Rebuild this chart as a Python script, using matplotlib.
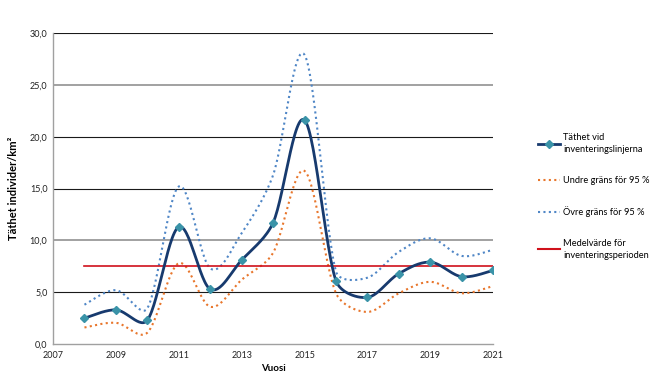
import numpy as np
import matplotlib
matplotlib.use("Agg")
import matplotlib.pyplot as plt
from matplotlib.lines import Line2D

plt.rcParams['font.family'] = ['Lato', 'DejaVu Sans']

years = np.arange(2008, 2022)
tathet = [2.5, 3.3, 2.3, 11.3, 5.3, 8.1, 11.7, 21.6, 6.1, 4.5, 6.8, 7.9, 6.5, 7.1]
undre = [1.6, 2.05, 1.1, 7.8, 3.6, 6.2, 8.8, 16.7, 4.9, 3.1, 4.9, 6.0, 4.9, 5.6]
ovre = [3.8, 5.2, 3.45, 15.2, 7.3, 10.7, 16.3, 27.9, 7.0, 6.4, 8.9, 10.2, 8.5, 9.1]
medel = np.mean(tathet)

yticks = [0, 5, 10, 15, 20, 25, 30]
xticks = [2007, 2009, 2011, 2013, 2015, 2017, 2019, 2021]

# approx pixels per data unit, so the smoothing works in screen space like Excel
SX, SY = 31.4, 10.36


def smooth(x, y, n=30, k=0.35):
    # Catmull-Rom style bezier, control arms clamped to a share of the segment
    p = np.column_stack([np.asarray(x, float) * SX, np.asarray(y, float) * SY])
    p = np.vstack([p[0], p, p[-1]])
    t = np.linspace(0, 1, n)[:, None]
    out = []
    for i in range(1, len(p) - 2):
        p0, p3 = p[i], p[i + 1]
        L = np.hypot(*(p3 - p0))
        a1 = (p3 - p[i - 1]) / 6
        a2 = (p[i + 2] - p0) / 6
        for a in (a1, a2):
            la = np.hypot(*a)
            if la > k * L:
                a *= k * L / la
        c1 = p0 + a1
        c2 = p3 - a2
        b = (1 - t) ** 3 * p0 + 3 * (1 - t) ** 2 * t * c1 + 3 * (1 - t) * t ** 2 * c2 + t ** 3 * p3
        out.append(b)
    out = np.concatenate(out)
    return out[:, 0] / SX, out[:, 1] / SY


navy = '#173a6e'
teal = '#3a93a8'
orange = '#e8762c'
blue = '#4f86c6'
red = '#d0111b'

fig = plt.figure(figsize=(6.71, 3.84), dpi=100)
ax = fig.add_axes([0.079, 0.104, 0.656, 0.81])

for v in yticks[1:]:
    c = '#9a9a9a' if v in (10, 25) else '#1a1a1a'
    lw = 1.3 if v in (10, 25) else 0.8
    ax.axhline(v, color=c, lw=lw, zorder=1)

sx, sy = smooth(years, ovre)
ax.plot(sx, sy, color=blue, lw=1.5, ls=(0, (1, 1.6)), zorder=3)
sx, sy = smooth(years, undre)
ax.plot(sx, sy, color=orange, lw=1.5, ls=(0, (1, 1.6)), zorder=3)
ax.plot([years[0], years[-1]], [medel, medel], color=red, lw=1.2, zorder=3)
sx, sy = smooth(years, tathet)
ax.plot(sx, sy, color=navy, lw=2, zorder=4)
ax.plot(years, tathet, ls='none', marker='D', ms=4.5, color=teal, zorder=5)

ax.set_xlim(2007, 2021)
ax.set_ylim(0, 30)
ax.set_xticks(xticks)
ax.set_yticks(yticks)
ax.set_yticklabels([f"{v:.1f}".replace('.', ',') for v in yticks])
ax.tick_params(length=0, labelsize=6.5, colors='#222222', pad=4)
ax.tick_params(axis='x', pad=5)
for s in ['top', 'right']:
    ax.spines[s].set_visible(False)
for s in ['left', 'bottom']:
    ax.spines[s].set_color('#a0a0a0')
    ax.spines[s].set_linewidth(1)
ax.set_xlabel('Vuosi', fontsize=7, fontweight='bold', labelpad=3)
ax.set_ylabel('Täthet individer/km²', fontsize=8, fontweight='bold', labelpad=8)

handles = [
    Line2D([], [], color=navy, lw=2, marker='D', ms=4, mfc=teal, mec=teal),
    Line2D([], [], color=orange, lw=1.5, ls=(0, (1, 1.6))),
    Line2D([], [], color=blue, lw=1.5, ls=(0, (1, 1.6))),
    Line2D([], [], color=red, lw=1.5),
]
labels = ['Täthet vid\ninventeringslinjerna', 'Undre gräns för 95 %',
          'Övre gräns för 95 %', 'Medelvärde för\ninventeringsperioden']
leg = fig.legend(handles, labels, loc='upper left', bbox_to_anchor=(0.795, 0.665),
                 frameon=False, fontsize=6.7, handlelength=2.3, handletextpad=0.4,
                 labelspacing=2.3, borderpad=0)
for txt in leg.get_texts():
    txt.set_linespacing(1.45)

fig.savefig('out.png', dpi=100)
